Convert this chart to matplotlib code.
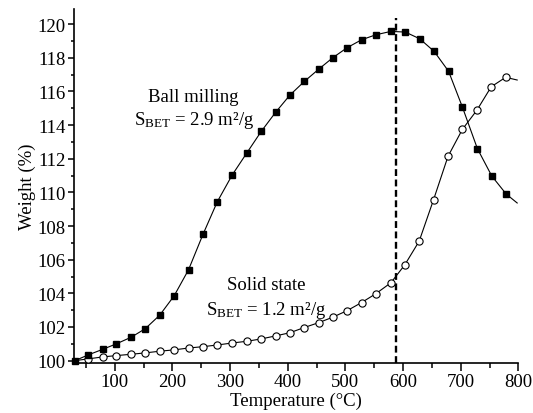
import matplotlib
matplotlib.use("Agg")
import matplotlib.pyplot as plt
from matplotlib.ticker import MultipleLocator

plt.rcParams['font.family'] = ['Liberation Serif', 'DejaVu Serif']
plt.rcParams['mathtext.fontset'] = 'custom'
plt.rcParams['mathtext.rm'] = 'Liberation Serif'
plt.rcParams['mathtext.it'] = 'Liberation Serif:italic'

# Ball milling (filled squares); last point is the curve end only
ball_x = [31, 54, 79, 103, 129, 153, 178, 203, 228, 253, 278, 304, 329, 354, 379,
          404, 429, 454, 478, 503, 528, 553, 579, 604, 629, 654, 679, 703, 729, 754, 779, 798]
ball_y = [100.0, 100.34, 100.67, 101.0, 101.4, 101.9, 102.7, 103.85, 105.4, 107.5, 109.45,
          111.05, 112.34, 113.62, 114.76, 115.79, 116.6, 117.33, 118.0, 118.6, 119.07,
          119.37, 119.57, 119.53, 119.13, 118.38, 117.2, 115.07, 112.6, 110.97, 109.9, 109.37]

# Solid state (open circles); last point is the curve end only
solid_x = [31, 53, 79, 103, 129, 153, 178, 203, 228, 253, 278, 304, 329, 354, 379,
           404, 428, 454, 478, 503, 528, 553, 579, 603, 628, 653, 678, 703, 728, 753, 778, 798]
solid_y = [100.0, 100.1, 100.22, 100.3, 100.38, 100.46, 100.56, 100.64, 100.75, 100.83,
           100.93, 101.05, 101.15, 101.29, 101.47, 101.66, 101.96, 102.26, 102.58, 102.97,
           103.45, 103.98, 104.63, 105.69, 107.1, 109.57, 112.14, 113.75, 114.88, 116.28,
           116.84, 116.68]

marker_x = 587

fig = plt.figure(figsize=(5.33, 4.14), dpi=100)
ax = fig.add_axes([0.1395, 0.1208, 0.8330, 0.8550])

n_b = len(ball_x) - 1
n_s = len(solid_x) - 1
ax.plot(solid_x, solid_y, color='black', lw=0.8, marker='o', markersize=5.2,
        markerfacecolor='white', markeredgecolor='black', markeredgewidth=0.8,
        markevery=list(range(1, n_s)), zorder=3)
ax.plot(ball_x, ball_y, color='black', lw=0.8, marker='s', markersize=4.6,
        markerfacecolor='black', markeredgecolor='black', markevery=list(range(n_b)),
        zorder=4, clip_on=False)

ax.plot([marker_x, marker_x], [99.86, 120.35], color='black', lw=1.7,
        dashes=(2.9, 1.5), zorder=2)

ax.set_xlim(30, 800)
ax.set_ylim(99.86, 120.9)

for s in ['top', 'right']:
    ax.spines[s].set_visible(False)
for s in ['left', 'bottom']:
    ax.spines[s].set_linewidth(1.2)

ax.xaxis.set_major_locator(MultipleLocator(100))
ax.xaxis.set_minor_locator(MultipleLocator(50))
ax.yaxis.set_major_locator(MultipleLocator(2))
ax.yaxis.set_minor_locator(MultipleLocator(1))
ax.tick_params(axis='both', which='major', direction='out', width=1.1, labelsize=13.5, pad=2)
ax.tick_params(axis='x', which='major', length=5.5)
ax.tick_params(axis='y', which='major', length=4.5)
ax.tick_params(axis='x', which='minor', direction='out', length=3.5, width=1.1)
ax.tick_params(axis='y', which='minor', direction='out', length=2.3, width=1.1)

ax.set_xlabel('Temperature (°C)', fontsize=13.5, labelpad=1)
ax.set_ylabel('Weight (%)', fontsize=13.5, labelpad=1)

ax.text(237, 115.7, 'Ball milling', fontsize=13.5, ha='center', va='center')
ax.text(237, 114.36, r'S$_{\mathrm{BET}}$ = 2.9 m²/g', fontsize=13.5, ha='center', va='center')
ax.text(363, 104.5, 'Solid state', fontsize=13.5, ha='center', va='center')
ax.text(363, 103.05, r'S$_{\mathrm{BET}}$ = 1.2 m²/g', fontsize=13.5, ha='center', va='center')

fig.savefig('out.png', dpi=100)
